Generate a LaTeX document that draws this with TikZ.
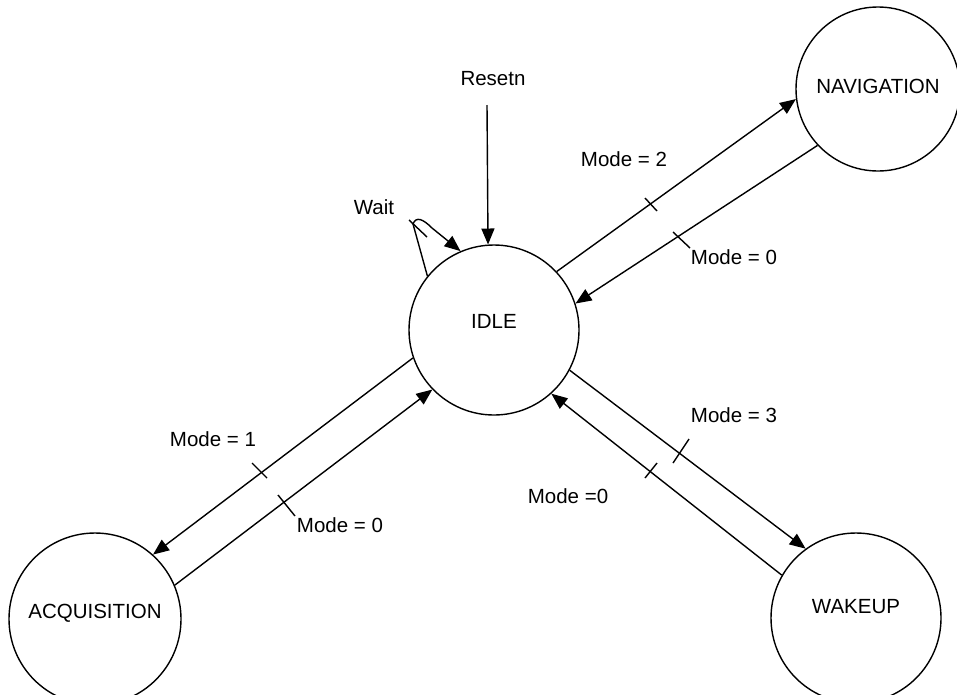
\documentclass[tikz,border=0pt]{standalone}
\usepackage{fontspec}
\setmainfont{Liberation Sans}
\usetikzlibrary{arrows.meta}
\begin{document}
\begin{tikzpicture}[x=1pt,y=-1pt,
  every node/.style={font=\fontsize{20.5}{24}\selectfont, inner sep=0pt},
  state/.style={draw, circle, line width=1.4pt, inner sep=0pt},
  conn/.style={line width=1.4pt},
  arr/.style={conn, -{Triangle[length=16pt,width=13pt]}},
  tick/.style={line width=1.4pt},
  lbl/.style={}]
\useasboundingbox (0,0) rectangle (957,694);

\node[state, minimum size=170pt, label={[yshift=9pt]center:IDLE}] (idle) at (494,330) {};
\node[state, minimum size=164pt, label={[yshift=3pt]center:NAVIGATION}] (nav) at (878,89) {};
\node[state, minimum size=172pt, label={[yshift=6pt]center:ACQUISITION}] (acq) at (95,619) {};
\node[state, minimum size=170pt, label={[yshift=11pt]center:WAKEUP}] (wake) at (856,618) {};

% Reset
\node (reset) at (493,79) {Resetn};
\coordinate (rs) at (487,105);
\draw[arr] (rs) -- (idle.94.7);

% Wait loop
\node (wait) at (374,207) {Wait};
\coordinate (wtop) at (413,224);
\coordinate (wt1) at (409,220);
\coordinate (wt2) at (427,237);
\draw[conn] (idle.141.7) -- (wtop) .. controls (416,216) and (423,219) .. (432,228);
\draw[arr] (432,228) -- (idle.113.6);
\draw[conn] (wt1) -- (wt2);

% IDLE <-> NAVIGATION
\draw[arr] (idle.43) -- (nav.187.6);
\draw[arr] (nav.223) -- (idle.18.2);
\draw[tick] (645,198) -- (657,211);
\draw[tick] (673,232) -- (690,248);
\node[lbl] (m2) at (624,159) {Mode = 2};
\node[lbl] (m0a) at (734,257) {Mode = 0};

% IDLE <-> ACQUISITION
\draw[arr] (idle.199.3) -- (acq.48.2);
\draw[arr] (acq.23.4) -- (idle.224);
\draw[tick] (252,463) -- (267,478);
\draw[tick] (278,495) -- (295,516);
\node[lbl] (m1) at (213,439) {Mode = 1};
\node[lbl] (m0b) at (340,525) {Mode = 0};

% IDLE <-> WAKEUP
\draw[arr] (idle.332) -- (wake.126.7);
\draw[arr] (wake.150.4) -- (idle.312);
\draw[tick] (689,439) -- (673,463);
\draw[tick] (657,463) -- (645,478);
\node[lbl] (m3) at (734,415) {Mode = 3};
\node[lbl] (m0c) at (568,496) {Mode =0};
\end{tikzpicture}
\end{document}
